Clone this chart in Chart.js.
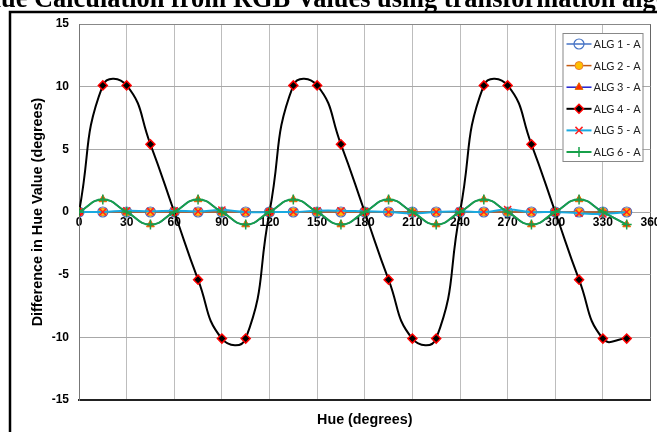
<!DOCTYPE html>
<html>
<head>
<meta charset="utf-8">
<script src="https://cdn.jsdelivr.net/npm/chart.js@4.4.0/dist/chart.umd.min.js"></script>
<style>
html, body { margin: 0; padding: 0; background: #fff; overflow: hidden; }
canvas { display: block; }
</style>
</head>
<body>
<canvas id="chart" width="657" height="432"></canvas>
<script>
// hue steps (degrees) and difference per algorithm
const hues = [0, 15, 30, 45, 60, 75, 90, 105, 120, 135, 150, 165, 180, 195, 210, 225, 240, 255, 270, 285, 300, 315, 330, 345];
const alg1 = [0, 0, 0, 0, 0, 0, 0, 0, 0, 0, 0, 0, 0, 0, 0, 0, 0, 0, 0, 0, 0, 0, 0, 0];
const alg2 = [0, 0, 0, 0, 0, 0, 0, 0, 0, 0, 0, 0, 0, 0, 0, 0, 0, 0, 0, 0, 0, 0, 0, 0];
const alg3 = [0, 1, 0, -1, 0, 1, 0, -1, 0, 1, 0, -1, 0, 1, 0, -1, 0, 1, 0, -1, 0, 1, 0, -1];
const alg4 = [0, 10.1, 10.1, 5.4, 0, -5.4, -10.1, -10.1, 0, 10.1, 10.1, 5.4, 0, -5.4, -10.1, -10.1, 0, 10.1, 10.1, 5.4, 0, -5.4, -10.1, -10.1];
const alg5 = [0, 0, 0.1, 0.05, 0.1, 0.05, 0.15, 0, 0, 0, 0.1, 0.1, 0.05, 0, -0.1, 0, 0.05, 0, 0.2, 0, 0, -0.1, -0.15, 0];
const alg6 = [0, 1, 0, -1, 0, 1, 0, -1, 0, 1, 0, -1, 0, 1, 0, -1, 0, 1, 0, -1, 0, 1, 0, -1];
const seriesNames = ['ALG 1 - A', 'ALG 2 - A', 'ALG 3 - A', 'ALG 4 - A', 'ALG 5 - A', 'ALG 6 - A'];
const yTicks = [-15, -10, -5, 0, 5, 10, 15];
const xTicks = [0, 30, 60, 90, 120, 150, 180, 210, 240, 270, 300, 330, 360];

const chartTitle = 'Hue Calculation from RGB Values using transformation algorithms';

function pts(vals) {
    return hues.map((h, i) => ({x: h, y: vals[i]}));
}

const styles = [
    {borderColor: '#4472C4', borderWidth: 1.5, pointStyle: 'circle', pointRadius: 5, pointBackgroundColor: 'rgba(0,0,0,0)', pointBorderColor: '#4472C4', pointBorderWidth: 1.2},
    {borderColor: '#C55A11', borderWidth: 1.5, pointStyle: 'circle', pointRadius: 4, pointBackgroundColor: '#FFC000', pointBorderColor: '#ED7D31', pointBorderWidth: 1},
    {borderColor: '#1F1FD0', borderWidth: 1.5, pointStyle: 'triangle', pointRadius: 4.5, pointBackgroundColor: '#FF2A00', pointBorderColor: '#E07000', pointBorderWidth: 1},
    {borderColor: '#000000', borderWidth: 2, pointStyle: 'rectRot', pointRadius: 4.5, pointBackgroundColor: '#000000', pointBorderColor: '#FF0000', pointBorderWidth: 1.5},
    {borderColor: '#19A9E0', borderWidth: 2, pointStyle: 'crossRot', pointRadius: 5, pointBackgroundColor: '#FF0000', pointBorderColor: '#FF2020', pointBorderWidth: 1.5},
    {borderColor: '#17A04A', borderWidth: 2, pointStyle: 'cross', pointRadius: 5, pointBackgroundColor: '#17A04A', pointBorderColor: '#17A04A', pointBorderWidth: 1.5}
];

const allSeries = [alg1, alg2, alg3, alg4, alg5, alg6];
const datasets = allSeries.map((vals, i) => Object.assign({
    label: seriesNames[i],
    data: pts(vals),
    tension: 0.5,
    fill: false,
    order: 6 - i,   // excel draws the last series on top
    xAxisID: 'x'
}, styles[i]));

const axisFont = 'Arial, "Liberation Sans", sans-serif';

// frame + title that sits half off the top of the picture
const framePlugin = {
    id: 'frame',
    afterDraw(chart) {
        const ctx = chart.ctx;
        ctx.save();
        ctx.font = 'bold 20px "Liberation Serif", "Times New Roman", serif';
        const visible = chartTitle.slice(1, 56);
        const w = ctx.measureText(visible).width;
        const size = 20 * 655 / w;
        ctx.font = 'bold ' + size + 'px "Liberation Serif", "Times New Roman", serif';
        const hW = ctx.measureText('H').width;
        ctx.fillStyle = '#000';
        ctx.textBaseline = 'alphabetic';
        ctx.fillText(chartTitle, 1 - hW, 7);

        ctx.strokeStyle = '#000';
        ctx.lineWidth = 2.5;
        ctx.strokeRect(10, 12, 700, 500);
        ctx.restore();
    }
};

// legend box inside the plot area, top right
const legendPlugin = {
    id: 'boxLegend',
    afterDatasetsDraw(chart) {
        const ctx = chart.ctx;
        const area = chart.chartArea;
        const bx = area.right - 88, by = area.top + 9, bw = 80, bh = 128;
        ctx.save();
        ctx.fillStyle = '#fff';
        ctx.fillRect(bx, by, bw, bh);
        ctx.strokeStyle = '#888';
        ctx.lineWidth = 1;
        ctx.strokeRect(bx + 0.5, by + 0.5, bw, bh);
        ctx.font = '11px Lato, "Liberation Sans", sans-serif';
        ctx.textBaseline = 'middle';
        chart.data.datasets.forEach((ds, i) => {
            const y = by + 11 + i * 21.6;
            ctx.strokeStyle = ds.borderColor;
            ctx.lineWidth = ds.borderWidth;
            ctx.beginPath();
            ctx.moveTo(bx + 4, y);
            ctx.lineTo(bx + 29, y);
            ctx.stroke();
            if (Chart.helpers && Chart.helpers.drawPoint) {
                ctx.fillStyle = ds.pointBackgroundColor;
                ctx.strokeStyle = ds.pointBorderColor;
                ctx.lineWidth = ds.pointBorderWidth;
                Chart.helpers.drawPoint(ctx, {pointStyle: ds.pointStyle, radius: ds.pointRadius, rotation: 0, borderWidth: ds.pointBorderWidth}, bx + 16.5, y);
            }
            ctx.fillStyle = '#222';
            ctx.fillText(ds.label, bx + 31, y + 0.5);
        });
        ctx.restore();
    }
};

new Chart(document.getElementById('chart'), {
    type: 'line',
    data: {datasets: datasets},
    plugins: [framePlugin, legendPlugin],
    options: {
        responsive: false,
        animation: false,
        devicePixelRatio: 1,
        layout: {padding: {left: 0, right: 6, top: 24, bottom: 0}},
        plugins: {legend: {display: false}, tooltip: {enabled: false}, title: {display: false}},
        scales: {
            x: {
                type: 'linear',
                position: 'bottom',
                min: 0,
                max: 360,
                afterBuildTicks: (s) => { s.ticks = xTicks.map(v => ({value: v})); },
                afterFit: (s) => { s.height = 32; },
                ticks: {display: false},
                grid: {
                    drawTicks: false,
                    color: (c) => (c.tick && c.tick.value === 360) ? '#666' : '#bdbdbd',
                    lineWidth: 1
                },
                border: {color: '#222', width: 2},
                title: {
                    display: true,
                    text: 'Hue (degrees)',
                    font: {family: axisFont, size: 14.3, weight: 'bold'},
                    color: '#000',
                    padding: {top: 0, bottom: 3.5}
                }
            },
            x2: {
                type: 'linear',
                position: {y: 0},
                min: 0,
                max: 360,
                afterBuildTicks: (s) => { s.ticks = xTicks.map(v => ({value: v})); },
                afterFit: (s) => { s.height = 0; s.paddingLeft = 0; s.paddingRight = 0; },
                grid: {display: false, drawTicks: false},
                border: {display: false},
                ticks: {
                    padding: 3,
                    maxRotation: 0,
                    autoSkip: false,
                    color: '#000',
                    font: {family: axisFont, size: 12, weight: 'bold'}
                }
            },
            y: {
                type: 'linear',
                position: 'left',
                min: -15,
                max: 15,
                afterBuildTicks: (s) => { s.ticks = yTicks.map(v => ({value: v})); },
                afterFit: (s) => { s.width = 79; },
                grid: {
                    drawTicks: false,
                    color: (c) => (c.tick && c.tick.value === 15) ? '#888' : '#a8a8a8',
                    lineWidth: 1
                },
                border: {color: '#777', width: 1},
                ticks: {
                    padding: 10,
                    color: '#000',
                    font: {family: axisFont, size: 12, weight: 'bold'}
                },
                title: {
                    display: true,
                    text: 'Difference in Hue Value (degrees)',
                    font: {family: axisFont, size: 14.4, weight: 'bold'},
                    color: '#000',
                    padding: {top: 29, bottom: 0}
                }
            }
        }
    }
});
</script>
</body>
</html>
